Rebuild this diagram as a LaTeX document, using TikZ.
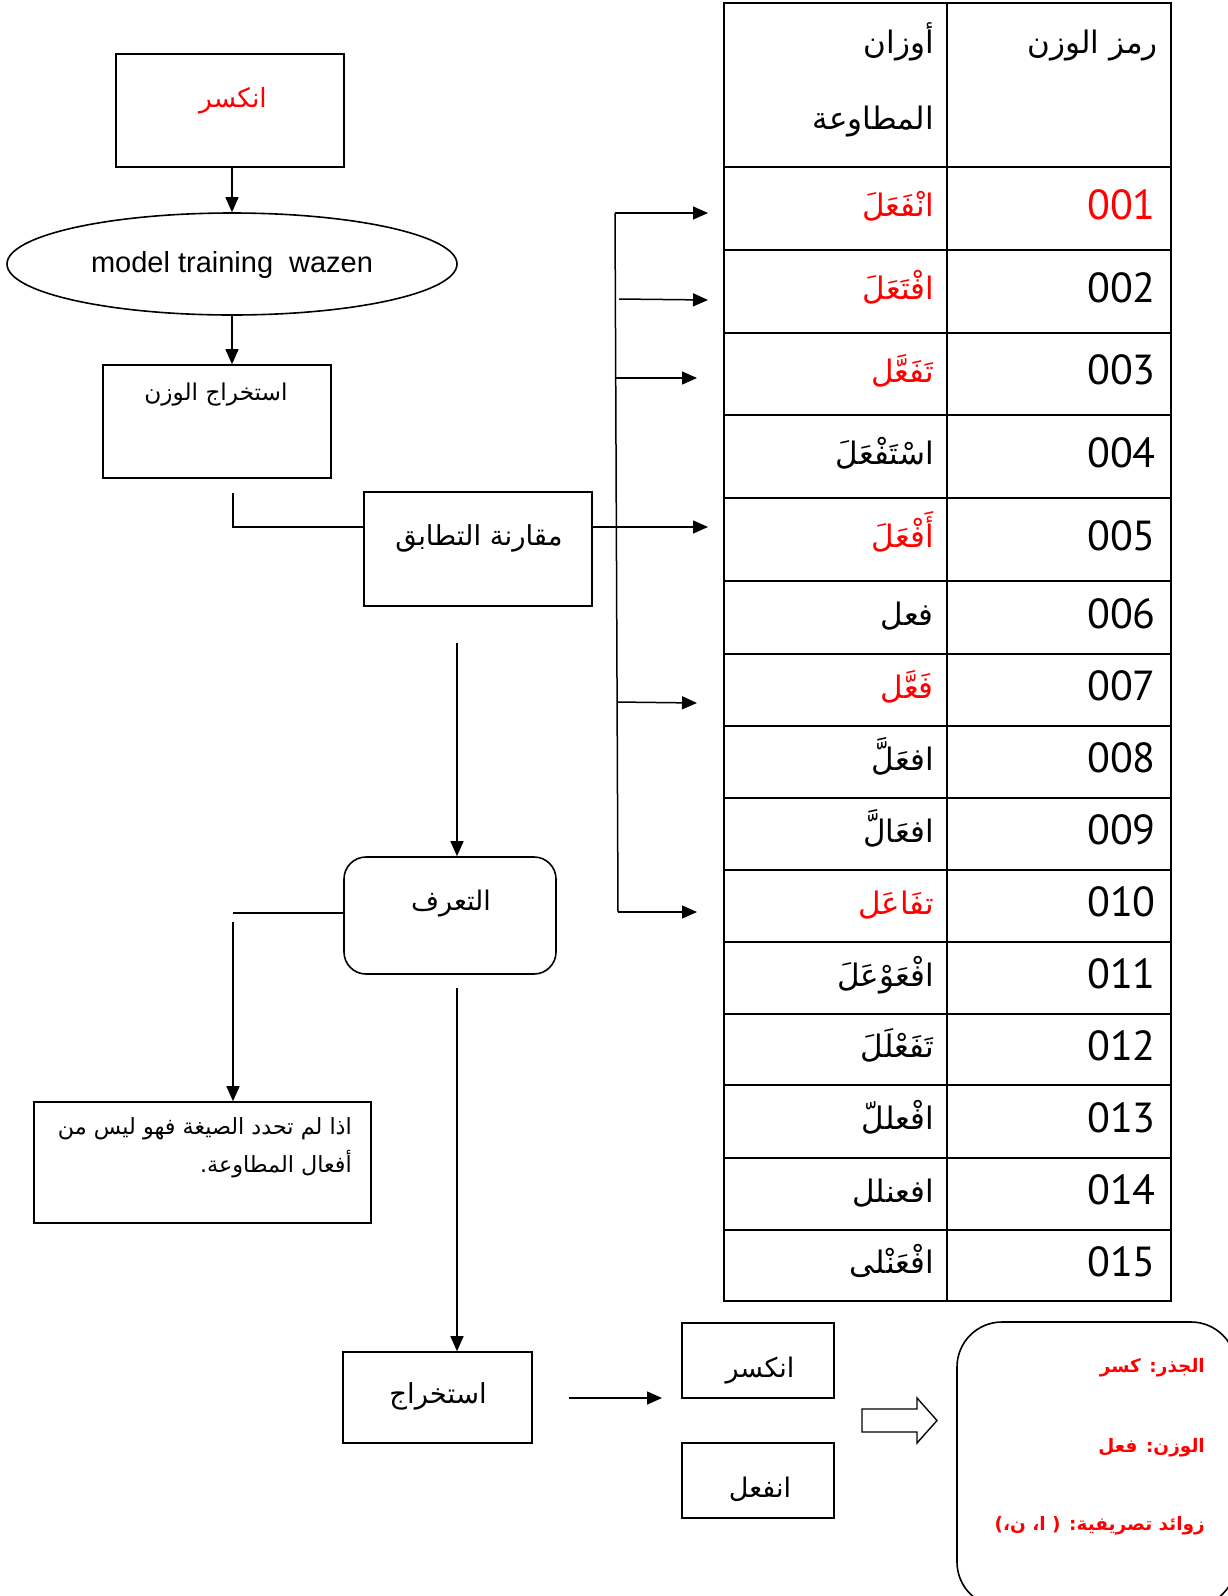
\documentclass[tikz,border=0pt]{standalone}
\usepackage{fontspec}
\setmainfont{Liberation Sans}
\newfontfamily\arabicfont[Script=Arabic]{DejaVu Sans}
\newfontfamily\digitfont{PT Sans}
\TeXXeTstate=1
\usetikzlibrary{arrows.meta,shapes.geometric}
\newcommand{\AR}[1]{{\arabicfont\beginR #1\endR}}

\begin{document}
\begin{tikzpicture}[x=1pt,y=-1pt,
  frame/.style={draw, line width=1.6pt, inner sep=0pt},
  link/.style={line width=1.5pt},
  flow/.style={link, -{Triangle[length=15pt,width=13pt]}},
  txt/.style={inner sep=0pt, anchor=base, font=\fontsize{27}{30}\selectfont},
  cell/.style={inner sep=0pt, anchor=base east, font=\fontsize{31}{34}\selectfont},
  code/.style={inner sep=0pt, anchor=base east, font=\digitfont\fontsize{42}{46}\selectfont},
  note/.style={inner sep=0pt, anchor=base east, text=red, font=\bfseries\fontsize{18.5}{22}\selectfont},
  grid/.style={line width=2.6pt}]

\useasboundingbox (0,0) rectangle (1228,1596);

% ---- left column of the flow ----
\node[frame, minimum width=228pt, minimum height=113pt] (src) at (230,110.5) {};
\node[txt, text=red, font=\fontsize{26.5}{30}\selectfont] (srcT) at (233,107) {\AR{انكسر}};

\node[frame, ellipse, minimum width=450pt, minimum height=102pt] (ell) at (232,264) {};
\node[inner sep=0pt, anchor=base, font=\fontsize{29}{32}\selectfont] (ellT) at (232,272)
  {model training\hspace{0.55em}wazen};

\node[frame, minimum width=228pt, minimum height=113pt] (wgt) at (217,421.5) {};
\node[txt, font=\fontsize{23.2}{27}\selectfont] (wgtT) at (216,400) {\AR{استخراج الوزن}};

\node[frame, minimum width=228pt, minimum height=114pt] (cmp) at (478,549) {};
\node[txt, font=\fontsize{27.5}{30}\selectfont] (cmpT) at (479,545) {\AR{مقارنة التطابق}};

\node[frame, rounded corners=22pt, minimum width=212pt, minimum height=117pt] (rec) at (450,915.5) {};
\node[txt] (recT) at (451,910) {\AR{التعرف}};

\node[frame, minimum width=337pt, minimum height=121pt] (neg) at (202.5,1162.5) {};
\node[inner sep=0pt, anchor=north east, align=right, font=\fontsize{22.3}{38.5}\selectfont] (negT) at (352,1117)
  {\AR{اذا لم تحدد الصيغة فهو ليس من}\\\AR{أفعال المطاوعة.}};

\node[frame, minimum width=189pt, minimum height=91pt] (ext) at (437.5,1397.5) {};
\node[txt, font=\fontsize{27.5}{30}\selectfont] (extT) at (438,1403) {\AR{استخراج}};

\node[frame, minimum width=152pt, minimum height=75pt] (out1) at (758,1360.5) {};
\node[txt] (out1T) at (760,1377) {\AR{انكسر}};
\node[frame, minimum width=152pt, minimum height=75pt] (out2) at (758,1480.5) {};
\node[txt] (out2T) at (760,1497) {\AR{انفعل}};

\node[frame, rounded corners=45pt, minimum width=279pt, minimum height=285pt] (res) at (1096.5,1464.5) {};
\node[note] (resA) at (1205,1372) {\AR{الجذر: كسر}};
\node[note] (resB) at (1205,1452) {\AR{الوزن: فعل}};
\node[note] (resC) at (1205,1530) {\AR{زوائد تصريفية: ^^^^200f( ا، ن،)}};

% ---- connectors of the flow ----
\draw[flow] (src.south -| ell.north) -- (ell.north);
\draw[flow] (ell.south) -- (ell.south |- wgt.north);

\coordinate (j0) at (233,493);
\coordinate (j1) at (233,527);
\draw[link] (j0) -- (j1) -- (j1 -| cmp.west);

\coordinate (p1) at (457,643);
\draw[flow] (p1) -- (p1 |- rec.north);

\coordinate (q1) at (233,913);
\draw[link] (rec.west |- q1) -- (q1);
\coordinate (q2) at (233,922);
\draw[flow] (q2) -- (q2 |- neg.north);

\coordinate (p2) at (457,988);
\draw[flow] (p2) -- (p2 |- ext.north);

\coordinate (m0) at (569,1398);
\coordinate (m1) at (662,1398);
\draw[flow] (m0) -- (m1);

% hollow block arrow towards the result
\draw[line width=1.4pt, line join=miter]
  (862,1409) -- (917,1409) -- (917,1398) -- (937,1420.5) -- (917,1443) -- (917,1432) -- (862,1432) -- cycle;

% ---- bus from the comparison to the table ----
\coordinate (busTop) at (615,213);
\coordinate (busBot) at (618,912);
\draw[link] (busTop) -- (busBot);
\coordinate (tA) at (708,213);
\coordinate (sB) at (619,299);  \coordinate (tB) at (708,300);
\coordinate (sC) at (615,378);  \coordinate (tC) at (697,378);
\coordinate (tD) at (708,527);
\coordinate (sE) at (617,702);  \coordinate (tE) at (697,703);
\coordinate (tF) at (697,912);
\draw[flow] (busTop) -- (tA);
\draw[flow] (sB) -- (tB);
\draw[flow] (sC) -- (tC);
\draw[flow] (j1 -| cmp.east) -- (tD);
\draw[flow] (sE) -- (tE);
\draw[flow] (busBot) -- (tF);

% ---- table of patterns ----
\draw[grid] (724,3) rectangle (1171,1301);
\draw[grid] (947,3) -- (947,1301);
\foreach \yy in {167,250,333,415,498,581,654,726,798,870,942,1014,1085,1158,1230}
  \draw[grid] (724,\yy) -- (1171,\yy);

\node[cell] (hCode) at (1158,53) {\AR{رمز الوزن}};
\node[cell] (hForm1) at (934,53) {\AR{أوزان}};
\node[cell] (hForm2) at (934,129) {\AR{المطاوعة}};

\foreach \c/\n/\w/\cn/\cw [count=\i] in {
  208.5/001/انْفَعَلَ/red/red,
  291.5/002/افْتَعَلَ/black/red,
  374/003/تَفَعَّل/black/red,
  456.5/004/اسْتَفْعَلَ/black/black,
  539.5/005/أَفْعَلَ/black/red,
  617.5/006/فعل/black/black,
  690/007/فَعَّل/black/red,
  762/008/افعَلَّ/black/black,
  834/009/افعَالَّ/black/black,
  906/010/تفَاعَل/black/red,
  978/011/افْعَوْعَلَ/black/black,
  1049.5/012/تَفَعْلَلَ/black/black,
  1121.5/013/افْعللّ/black/black,
  1194/014/افعنلل/black/black,
  1265.5/015/افْعَنْلى/black/black}
{
  \node[code, text=\cn] (code\i) at (1156,\c+10.5) {\n};
  \node[cell, text=\cw] (form\i) at (934,\c+8) {\AR{\w}};
}
\end{tikzpicture}
\end{document}
